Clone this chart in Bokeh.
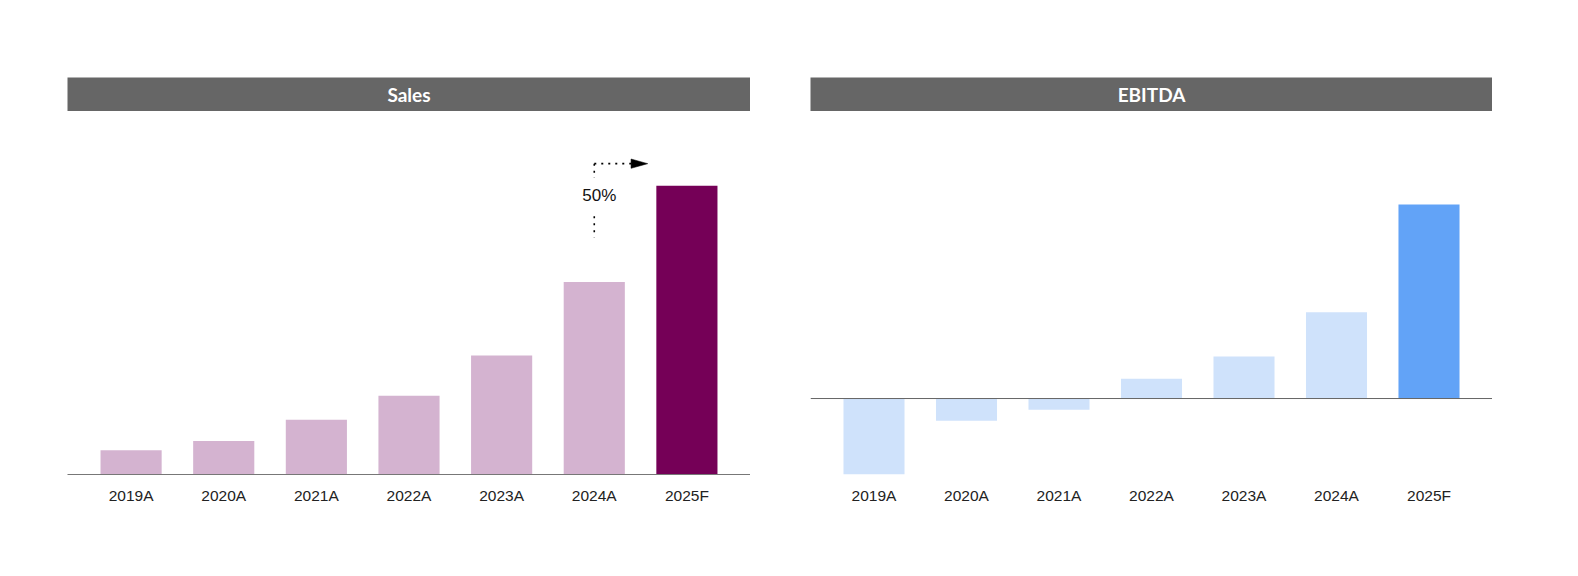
from bokeh.plotting import figure
from bokeh.layouts import row, column
from bokeh.models import Spacer, Range1d, FactorRange, Span, Label, ColumnDataSource
from bokeh.core.properties import value
from bokeh.embed import file_html
from bokeh.resources import INLINE

# ---------------- data ----------------
categories = ["2019A", "2020A", "2021A", "2022A", "2023A", "2024A", "2025F"]
sales = [12.6, 17.4, 28.4, 40.9, 61.8, 100.0, 150.0]
ebitda = [-39.1, -11.5, -5.8, 10.2, 21.6, 44.4, 100.0]
sales_colors = ["#d4b3d0"] * 6 + ["#750057"]
ebitda_colors = ["#cfe2fb"] * 6 + ["#62a3f7"]
titles = ["Sales", "EBITDA"]
growth_label = "50%"

# ---------------- layout constants ----------------
HEADER_H = 34
FRAME_H = 363
SALES_W = 683
EBITDA_W = 682
TICK_FONT = "Liberation Sans"


def header(text, w):
    h = figure(frame_width=w, frame_height=HEADER_H, x_range=Range1d(0, 1), y_range=Range1d(0, 1),
               toolbar_location=None, output_backend="svg", min_border=0,
               x_axis_location=None, y_axis_location=None,
               background_fill_color="#666666", border_fill_color="#666666",
               outline_line_color=None)
    h.grid.visible = False
    h.add_layout(Label(x=0.5, y=0.5, text=text, text_align="center", text_baseline="middle",
                       text_color="white", text_font="Lato", text_font_style="bold",
                       text_font_size="19px"))
    return h


def bars(vals, colors, y0, y1, w, axis_line):
    src = ColumnDataSource(dict(cat=categories, val=vals, color=colors))
    p = figure(x_range=FactorRange(*categories, range_padding=0.1865, range_padding_units="absolute"),
               y_range=Range1d(y0, y1), frame_width=w, frame_height=FRAME_H,
               toolbar_location=None, output_backend="svg", min_border=0,
               y_axis_location=None, outline_line_color=None)
    p.vbar(x="cat", top="val", bottom=0, width=0.66, fill_color="color", line_color=None, source=src)
    p.grid.visible = False
    ax = p.xaxis[0]
    ax.major_tick_line_color = None
    ax.minor_tick_line_color = None
    ax.major_label_text_font = TICK_FONT
    ax.major_label_text_font_size = "15.5px"
    ax.major_label_text_color = "#222222"
    ax.major_label_standoff = 6
    if axis_line:
        ax.axis_line_color = "#777777"
        ax.axis_line_width = 1
    else:
        ax.axis_line_color = None
    return p


# ---------------- Sales ----------------
ps = bars(sales, sales_colors, 0, 188.6, SALES_W, True)

# growth annotation (synthetic categorical coordinates: factor i -> i + 0.5)
i_from = categories.index("2024A") + 0.5
i_to = categories.index("2025F") + 0.5
ARROW_Y = 161.5
tip_x = i_to - 0.423
base_x = tip_x - 0.18
dot = dict(line_color="black", line_width=1.6, line_dash="2 5")
ps.segment(x0=[i_from, i_from], y0=[ARROW_Y, 134.2], x1=[i_from, i_from], y1=[154.0, 123.1], **dot)
ps.segment(x0=[i_from], y0=[ARROW_Y], x1=[base_x], y1=[ARROW_Y], **dot)
ps.patch(x=[base_x, tip_x, base_x], y=[ARROW_Y + 2.42, ARROW_Y, ARROW_Y - 2.42],
         fill_color="black", line_color="black", line_width=0.5)
ps.text(x=[i_from], y=[145.2], text=[growth_label], text_align="center", text_baseline="middle",
        text_font=value("Liberation Sans"), text_font_size="17px", text_color="#111111", x_offset=5)

# ---------------- EBITDA ----------------
pe = bars(ebitda, ebitda_colors, -39.15, 147.9, EBITDA_W, False)
pe.add_layout(Span(location=0, dimension="width", line_color="#666666", line_width=1))

left = column(Spacer(height=77), header(titles[0], SALES_W), ps, spacing=0)
right = column(Spacer(height=77), header(titles[1], EBITDA_W), pe, spacing=0)
layout = row(Spacer(width=67), left, Spacer(width=60), right, spacing=0)

open("out.html", "w").write(file_html(layout, INLINE))
